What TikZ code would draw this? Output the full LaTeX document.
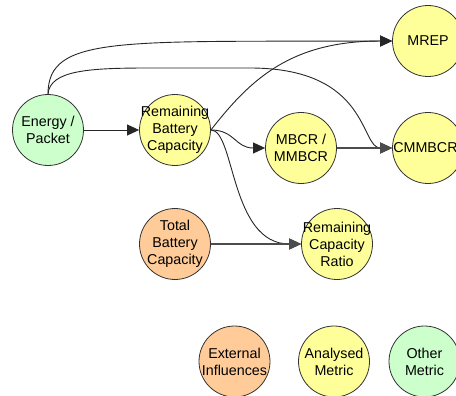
\documentclass[tikz,border=0pt]{standalone}
\usepackage{fontspec}
\setmainfont{Liberation Sans}
\usetikzlibrary{arrows.meta}
\definecolor{cgreen}{HTML}{CCFFCC}
\definecolor{cyellow}{HTML}{FFFF99}
\definecolor{corange}{HTML}{FFCC99}
\definecolor{cborder}{HTML}{333333}
\tikzset{
  blob/.style={circle, draw=cborder, line width=0.8pt, minimum size=71pt, inner sep=0pt},
  txt/.style={align=center, font=\fontsize{14.3}{17}\selectfont, inner sep=0pt},
  green/.style={blob, fill=cgreen},
  yellow/.style={blob, fill=cyellow},
  orange/.style={blob, fill=corange},
  conn/.style={draw=black!85, line width=0.9pt, -{Triangle[length=12pt,width=11pt]}}
}
\begin{document}
\begin{tikzpicture}[x=1pt,y=-1pt]
\useasboundingbox (0,0) rectangle (456,396);
\clip (0,0) rectangle (456,396);
\node[green]  (ep)   at (48,130)  {};
\node[yellow] (rbc)  at (175,130) {};
\node[yellow] (mbcr) at (301,148) {};
\node[yellow] (mrep) at (428,41)  {};
\node[yellow] (cmm)  at (428,148) {};
\node[orange] (tbc)  at (175,244) {};
\node[yellow] (rcr)  at (337,244) {};
\node[orange] (ext)  at (234.5,361.5) {};
\node[yellow] (ana)  at (334,361.5) {};
\node[green]  (oth)  at (424.5,361.5) {};
% edges
\draw[conn] (ep.east) -- (rbc.west);
\draw[conn] (ep.north) .. controls (48,35) and (120,42) .. (mrep.west);
\draw[conn] (ep.north) .. controls (50,70) and (90,68) .. (150,68) -- (250,68)
   .. controls (370,68) and (360,148) .. (cmm.west);
\draw[conn] (rbc.east) .. controls (250,80) and (290,41) .. (mrep.west);
\draw[conn] (rbc.east) .. controls (235,130) and (235,148) .. (mbcr.west);
\draw[conn] (rbc.east) .. controls (235,130) and (230,244) .. (rcr.west);
\draw[conn, draw=black!70, line width=1.1pt] (mbcr.east) -- (cmm.west);
\draw[conn, draw=black!70, line width=1.1pt] (tbc.east) -- (rcr.west);
% texts
\node[txt] at (ep)   {Energy /\\Packet};
\node[txt] at (rbc)  {Remaining\\Battery\\Capacity};
\node[txt] at (mbcr) {MBCR /\\MMBCR};
\node[txt] at (mrep) {MREP};
\node[txt, anchor=west] at ([xshift=1pt]cmm.west) {CMMBCR};
\node[txt] at (tbc)  {Total\\Battery\\Capacity};
\node[txt] at (rcr)  {Remaining\\Capacity\\Ratio};
\node[txt] at (ext)  {External\\Influences};
\node[txt] at (ana)  {Analysed\\Metric};
\node[txt] at (oth)  {Other\\Metric};
\end{tikzpicture}
\end{document}
